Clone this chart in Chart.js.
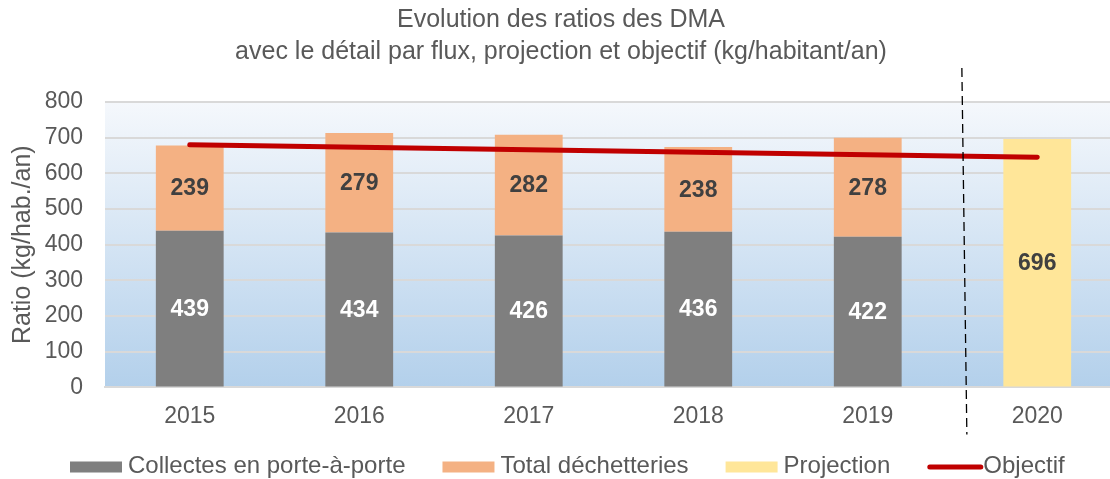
<!DOCTYPE html>
<html>
<head>
<meta charset="utf-8">
<script src="https://cdn.jsdelivr.net/npm/chart.js@4"></script>
<style>
  html, body { margin: 0; padding: 0; background: #ffffff; overflow: hidden; }
  #wrap { width: 1122px; height: 479px; }
</style>
</head>
<body>
<div id="wrap"><canvas id="chart"></canvas></div>
<script>
let years = ['2015', '2016', '2017', '2018', '2019', '2020'];
let collectes = [439, 434, 426, 436, 422, null];
let decheteries = [239, 279, 282, 238, 278, null];
let projection = [null, null, null, null, null, 696];
let objectif = [680, 673, 666, 659, 652, 645];
let yTicks = [0, 100, 200, 300, 400, 500, 600, 700, 800];

// dashed separator sits between 2019 and 2020 (category index units)
const dividerPos = 4.57;
const grey = '#595959';
const font = 'Liberation Sans, Arial, sans-serif';

const bgPlugin = {
    id: 'bg',
    beforeDraw(chart) {
        const a = chart.chartArea;
        const c = chart.ctx;
        const g = c.createLinearGradient(0, a.top, 0, a.bottom);
        g.addColorStop(0, '#F5F8FC');
        g.addColorStop(1, '#B3D0EB');
        c.save();
        c.fillStyle = g;
        c.fillRect(a.left, a.top, a.right - a.left, a.bottom - a.top);
        c.restore();
    }
};

const labelPlugin = {
    id: 'labels',
    afterDatasetsDraw(chart) {
        const c = chart.ctx;
        c.save();
        c.font = 'bold 23px ' + font;
        c.textAlign = 'center';
        c.textBaseline = 'middle';
        chart.data.datasets.forEach((ds, i) => {
            if (ds.type === 'line') return;
            const meta = chart.getDatasetMeta(i);
            meta.data.forEach((bar, j) => {
                const v = ds.data[j];
                if (v == null) return;
                c.fillStyle = ds.labelColor;
                c.fillText(String(v), bar.x, (bar.y + bar.base) / 2 + 1);
            });
        });
        c.restore();
    }
};

const dividerPlugin = {
    id: 'divider',
    afterDraw(chart) {
        const a = chart.chartArea;
        const x = chart.scales.x.getPixelForValue(dividerPos);
        const c = chart.ctx;
        c.save();
        c.strokeStyle = '#000000';
        c.lineWidth = 1.3;
        c.setLineDash([9, 5]);
        c.beginPath();
        c.moveTo(x - 2.5, a.top - 34);
        c.lineTo(x + 2.5, a.bottom + 47);
        c.stroke();
        c.restore();
    }
};

const legendPlugin = {
    id: 'bottomLegend',
    afterDraw(chart) {
        const c = chart.ctx;
        const y = chart.height - 13;
        const boxW = 52, txtGap = 6, itemGap = 37;
        let x = 70;
        c.save();
        c.font = '24px ' + font;
        c.textBaseline = 'middle';
        chart.data.datasets.forEach(ds => {
            if (ds.type === 'line') {
                c.strokeStyle = ds.borderColor;
                c.lineWidth = 5;
                c.lineCap = 'round';
                c.beginPath();
                c.moveTo(x + 2.5, y + 1);
                c.lineTo(x + boxW + 1.5, y + 1);
                c.stroke();
                x -= 2;
            } else {
                c.fillStyle = ds.backgroundColor;
                c.fillRect(x, y - 4.5, boxW, 11);
            }
            x += boxW + txtGap;
            c.fillStyle = grey;
            c.fillText(ds.label, x, y);
            x += c.measureText(ds.label).width + itemGap;
        });
        c.restore();
    }
};

const ctx = document.getElementById('chart').getContext('2d');

const chart = new Chart(ctx, {
    data: {
        labels: years,
        datasets: [
            {
                type: 'bar',
                label: 'Collectes en porte-à-porte',
                data: collectes,
                backgroundColor: '#7F7F7F',
                labelColor: '#FFFFFF',
                order: 1
            },
            {
                type: 'bar',
                label: 'Total déchetteries',
                data: decheteries,
                backgroundColor: '#F4B183',
                labelColor: '#404040',
                order: 1
            },
            {
                type: 'bar',
                label: 'Projection',
                data: projection,
                backgroundColor: '#FFE699',
                labelColor: '#404040',
                order: 1
            },
            {
                type: 'line',
                label: 'Objectif',
                data: objectif,
                borderColor: '#C00000',
                backgroundColor: '#C00000',
                borderWidth: 5,
                borderCapStyle: 'round',
                pointRadius: 0,
                stack: 'line',
                order: 0
            }
        ]
    },
    options: {
        responsive: true,
        maintainAspectRatio: false,
        animation: false,
        datasets: {
            bar: { barPercentage: 0.4, categoryPercentage: 1, stack: 'a' }
        },
        layout: { padding: { top: 0, right: 0, bottom: 34, left: 0 } },
        plugins: {
            legend: { display: false },
            tooltip: { enabled: false },
            title: {
                display: true,
                text: ['Evolution des ratios des DMA', 'avec le détail par flux, projection et objectif (kg/habitant/an)'],
                color: grey,
                font: { family: font, size: 25, weight: 'normal', lineHeight: 1.28 },
                padding: { top: 4, bottom: 34 }
            }
        },
        scales: {
            x: {
                stacked: true,
                grid: { display: false, drawTicks: false },
                border: { color: '#D9D9D9', width: 2 },
                ticks: { color: grey, font: { family: font, size: 23 }, padding: 15 }
            },
            y: {
                stacked: true,
                min: 0,
                max: 800,
                afterBuildTicks(scale) { scale.ticks = yTicks.map(v => ({ value: v })); },
                afterFit(scale) { scale.width = 105; },
                grid: { color: '#D9D9D9', lineWidth: 2, drawTicks: false },
                border: { display: false },
                ticks: { color: grey, font: { family: font, size: 23 }, padding: 22 },
                title: {
                    display: true,
                    text: 'Ratio (kg/hab./an)',
                    color: grey,
                    font: { family: font, size: 25 },
                    padding: { top: 8, bottom: 4 }
                }
            }
        }
    },
    plugins: [bgPlugin, labelPlugin, dividerPlugin, legendPlugin]
});
</script>
</body>
</html>
